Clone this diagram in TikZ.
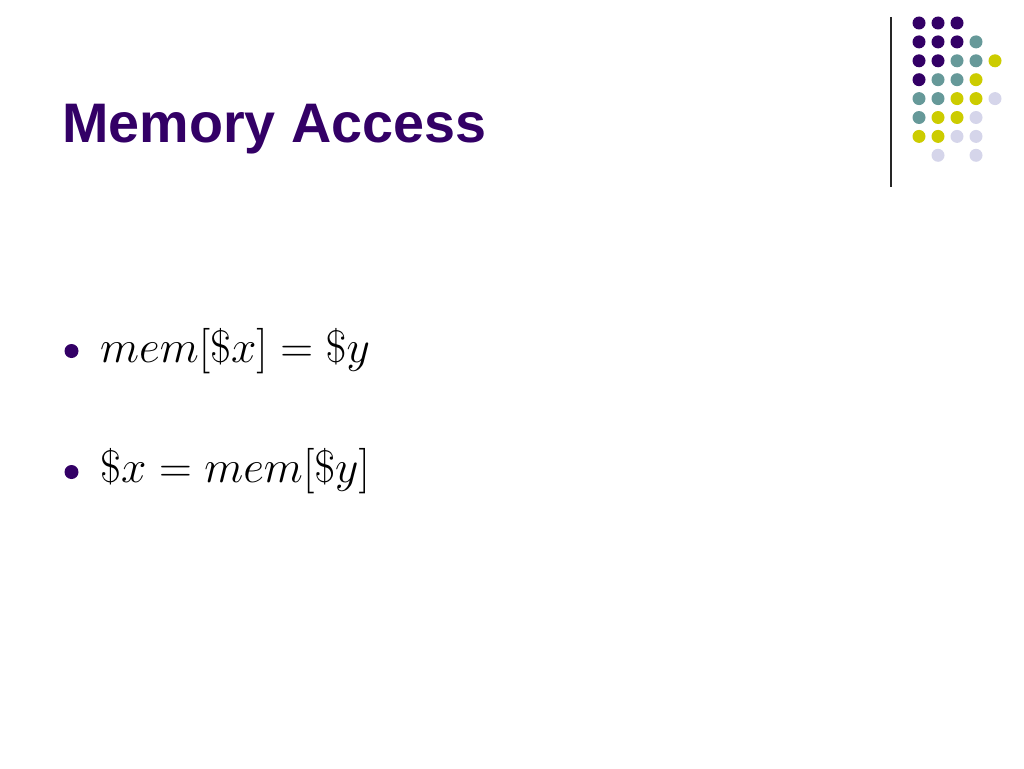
\RequirePackage{fix-cm}
\documentclass[tikz,border=0pt]{standalone}
\usepackage[no-math]{fontspec}
\setmainfont{Liberation Sans}
\definecolor{deepPurple}{HTML}{330066}
\definecolor{dotTeal}{HTML}{669999}
\definecolor{dotYellow}{HTML}{CCCC00}
\definecolor{dotLavender}{HTML}{D5D5EA}
\tikzset{
  dot/.style={circle,inner sep=0pt,minimum size=13pt},
  bullet/.style={circle,inner sep=0pt,minimum size=14pt,fill=deepPurple},
  line/.style={anchor=base west,inner sep=0pt,font=\fontsize{45.5}{55}\selectfont},
}
\begin{document}
\begin{tikzpicture}[x=1pt,y=-1pt]
\useasboundingbox (0,0) rectangle (1024,768);
% title
\node[anchor=base west,inner sep=0pt,text=deepPurple,font=\fontsize{55.7}{67}\selectfont\bfseries] (title) at (62,142) {Memory Access};
% rule beside the dots
\coordinate (ruletop) at (891,17);
\coordinate (rulebot) at (891,187);
\draw[line width=1.3pt,black!85] (ruletop) -- (rulebot);
% dot grid: column/row/colour
\foreach \c/\r/\clr in {0/0/deepPurple,1/0/deepPurple,2/0/deepPurple,
  0/1/deepPurple,1/1/deepPurple,2/1/deepPurple,3/1/dotTeal,
  0/2/deepPurple,1/2/deepPurple,2/2/dotTeal,3/2/dotTeal,4/2/dotYellow,
  0/3/deepPurple,1/3/dotTeal,2/3/dotTeal,3/3/dotYellow,
  0/4/dotTeal,1/4/dotTeal,2/4/dotYellow,3/4/dotYellow,4/4/dotLavender,
  0/5/dotTeal,1/5/dotYellow,2/5/dotYellow,3/5/dotLavender,
  0/6/dotYellow,1/6/dotYellow,2/6/dotLavender,3/6/dotLavender,
  1/7/dotLavender,3/7/dotLavender}
  \node[dot,fill=\clr] (d\c\r) at (919+19*\c,23+18.9*\r) {};
% bullets
\node[bullet] (b1) at (71.5,351) {};
\node[line] (store) at (100,362) {$mem[\$x]=\$y$};
\node[bullet] (b2) at (71.5,472) {};
\node[line] (load) at (100,482) {$\$x=mem[\$y]$};
\end{tikzpicture}
\end{document}
